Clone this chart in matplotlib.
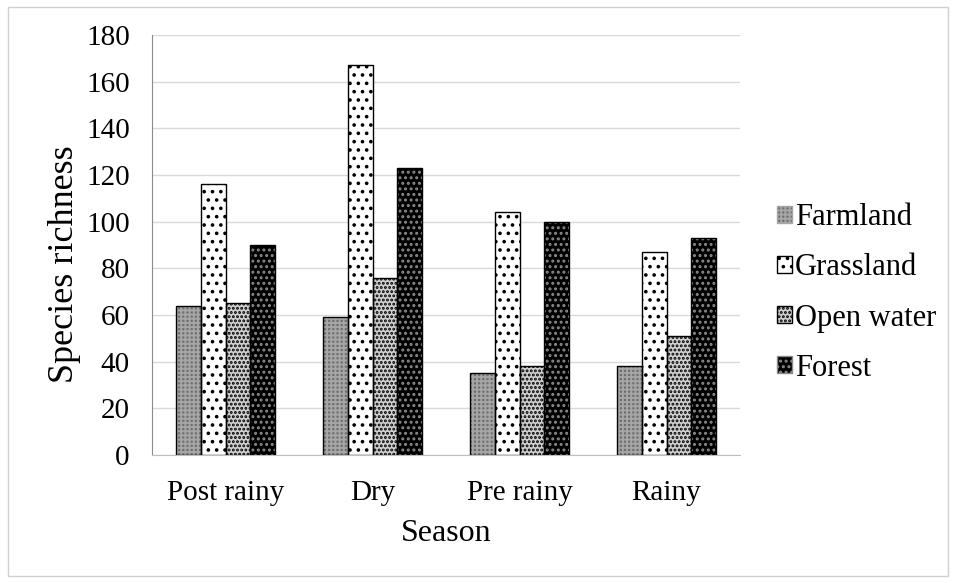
import numpy as np
import matplotlib
matplotlib.use("Agg")
import matplotlib.pyplot as plt
from matplotlib.patches import Rectangle, Patch

plt.rcParams['font.family'] = ['Liberation Serif', 'DejaVu Serif']
plt.rcParams['hatch.linewidth'] = 1.4

seasons = ['Post rainy', 'Dry', 'Pre rainy', 'Rainy']
habitats = ['Farmland', 'Grassland', 'Open water', 'Forest']
farmland = [64, 59, 35, 38]
grassland = [116, 167, 104, 87]
open_water = [65, 76, 38, 51]
forest = [90, 123, 100, 93]

# face colour, hatch, hatch colour for each habitat
styles = [
    ('#6e6e6e', '++++', '#a6a6a6'),
    ('white', '..', 'black'),
    ('#d0d0d0', '....', 'black'),
    ('black', '...', '#8a8a8a'),
]

fig = plt.figure(figsize=(9.57, 5.83), dpi=100)
fig.patches.append(Rectangle((8 / 957, 7 / 583), 940 / 957, 569 / 583,
                             transform=fig.transFigure, fill=False,
                             edgecolor='#d0d0d0', linewidth=1))
ax = fig.add_axes([152 / 957, 128 / 583, 588 / 957, 420 / 583])

x = np.arange(len(seasons))
width = 0.17
series = [farmland, grassland, open_water, forest]
handles = []
for i, (vals, (fc, hatch, hc)) in enumerate(zip(series, styles)):
    pos = x + (i - 1.5) * width
    ax.bar(pos, vals, width, color=fc, hatch=hatch, edgecolor=hc,
           linewidth=0, zorder=3)
    ax.bar(pos, vals, width, facecolor='none', edgecolor='black',
           linewidth=1.0, zorder=4)
    handles.append(Patch(facecolor=fc, hatch=hatch, edgecolor=hc,
                         label=habitats[i]))

ax.set_ylim(0, 180)
ax.set_yticks(np.arange(0, 181, 20))
ax.set_xlim(-0.5, 3.5)
ax.set_xticks(x)
ax.set_xticklabels(seasons)
ax.grid(axis='y', color='#d9d9d9', linewidth=1, zorder=0)
ax.tick_params(axis='y', length=0, labelsize=21, pad=16)
ax.tick_params(axis='x', length=0, labelsize=21, pad=18)
for s in ['top', 'right']:
    ax.spines[s].set_visible(False)
ax.spines['left'].set_color('#8c8c8c')
ax.spines['bottom'].set_color('#bfbfbf')
ax.set_ylabel('Species richness', fontsize=26)
ax.yaxis.set_label_coords(-0.148, 0.455)
ax.set_xlabel('Season', fontsize=23)
ax.xaxis.set_label_coords(0.5, -0.186)
ax.xaxis.label.set_va('center')
ax.yaxis.label.set_va('center')

fig.legend(handles=handles, loc='center left',
           bbox_to_anchor=(777 / 957, 1 - 293 / 583), frameon=False,
           fontsize=22, handlelength=0.5, handleheight=0.5,
           handletextpad=0.08, labelspacing=0.69,
           borderpad=0, borderaxespad=0)

fig.savefig('out.png', dpi=100)
